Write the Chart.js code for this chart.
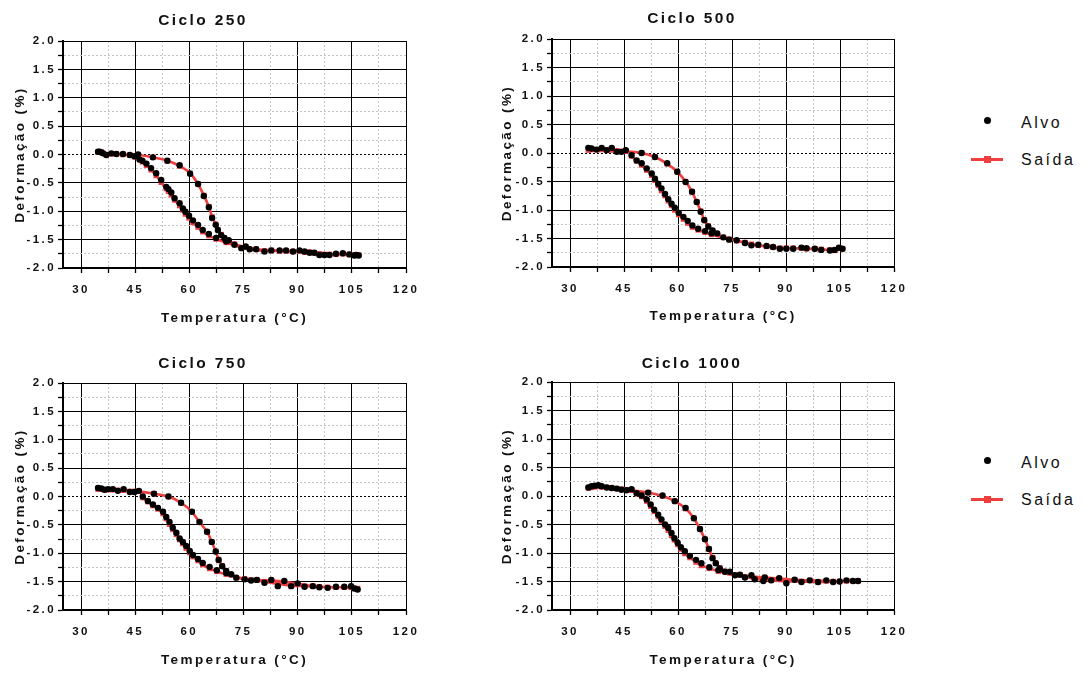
<!DOCTYPE html>
<html>
<head>
<meta charset="utf-8">
<script src="https://cdn.jsdelivr.net/npm/chart.js@4.4.0/dist/chart.umd.min.js"></script>
<style>
  html, body { margin: 0; padding: 0; background: #fff; }
  body { width: 1090px; height: 673px; overflow: hidden; position: relative;
         font-family: 'Liberation Sans', Arial, sans-serif; }
  canvas { position: absolute; }
  .lg-text { position: absolute; font-size: 16px; letter-spacing: 2.5px; color: #111; line-height: 20px; }
  .lg-dot { position: absolute; width: 7px; height: 7px; border-radius: 50%; background: #000; }
  .lg-line { position: absolute; width: 32px; height: 3px; background: rgb(240, 62, 62); }
  .lg-sq { position: absolute; width: 7px; height: 7px; background: rgb(240, 62, 62); }
</style>
</head>
<body>
<canvas id="c250" width="469" height="335" style="left:0;top:0"></canvas>
<canvas id="c500" width="466" height="335" style="left:490px;top:0"></canvas>
<canvas id="c750" width="469" height="333" style="left:0;top:340px"></canvas>
<canvas id="c1000" width="466" height="333" style="left:490px;top:340px"></canvas>
<div id="legends"></div>

<script>
// eixos
const xTicks = [30, 37.5, 45, 52.5, 60, 67.5, 75, 82.5, 90, 97.5, 105, 112.5, 120];
const yTicks = [-2, -1.75, -1.5, -1.25, -1, -0.75, -0.5, -0.25, 0, 0.25, 0.5, 0.75, 1, 1.25, 1.5, 1.75, 2];
const cycleTitles = ['Ciclo 250', 'Ciclo 500', 'Ciclo 750', 'Ciclo 1000'];
const legendLabels = ['Alvo', 'Saída'];

// Ciclo 250: aquecimento (ramo direito) e depois resfriamento (ramo esquerdo)
const temp250 = [34.7, 35.1, 35.6, 36.1, 37.0, 38.4, 39.8, 41.6, 43.5,
  45.8, 49.9, 53.9, 57.3, 60.2, 62.4, 64.0, 65.4, 66.3, 67.3, 67.9, 68.8, 69.7, 70.9,
  72.5, 75.6, 78.5, 82.7, 86.8, 90.5, 93.3, 96.0, 98.8, 102.5, 105.7, 106.9,
  106.2, 104.3, 100.6, 97.4, 94.6, 91.9, 88.7, 85.0, 80.8, 76.7, 74.4,
  70.2, 67.4, 65.4, 63.7, 62.4, 61.0, 59.9, 58.9, 58.2, 57.3, 55.9, 55.0, 54.2, 53.6, 52.2, 50.8, 49.4, 48.1, 47.0, 46.2, 44.8];
const alvo250 = [0.05, 0.05, 0.04, 0.02, -0.01, 0.02, 0.01, 0.01, -0.01,
  0.0, -0.05, -0.11, -0.19, -0.34, -0.52, -0.73, -0.93, -1.12, -1.24, -1.33, -1.42, -1.47, -1.51,
  -1.59, -1.62, -1.67, -1.69, -1.69, -1.69, -1.73, -1.77, -1.77, -1.74, -1.78, -1.78,
  -1.77, -1.76, -1.75, -1.77, -1.73, -1.71, -1.71, -1.69, -1.71, -1.67, -1.65,
  -1.53, -1.47, -1.40, -1.33, -1.24, -1.16, -1.08, -1.01, -0.95, -0.86, -0.77, -0.67, -0.61, -0.57, -0.45, -0.33, -0.24, -0.16, -0.11, -0.09, -0.03];
const saida250 = [0.04, 0.05, 0.04, 0.02, 0.0, 0.01, 0.01, 0.0, -0.01,
  -0.01, -0.05, -0.11, -0.2, -0.33, -0.52, -0.72, -0.92, -1.1, -1.23, -1.33, -1.41, -1.47, -1.52,
  -1.58, -1.63, -1.67, -1.69, -1.7, -1.7, -1.72, -1.75, -1.76, -1.75, -1.77, -1.77,
  -1.77, -1.76, -1.76, -1.76, -1.73, -1.72, -1.71, -1.7, -1.7, -1.67, -1.64,
  -1.55, -1.49, -1.43, -1.36, -1.28, -1.2, -1.12, -1.05, -0.98, -0.9, -0.8, -0.71, -0.65, -0.6, -0.49, -0.37, -0.27, -0.19, -0.13, -0.09, -0.04];

// Ciclo 500
const temp500 = [35.1, 36.0, 37.4, 38.8, 40.2, 41.6, 43.0, 44.3, 45.5,
  49.9, 53.6, 57.0, 59.8, 62.1, 63.9, 65.2, 66.3, 67.3, 68.4, 69.6, 70.9,
  72.6, 76.3, 80.4, 84.6, 88.3, 92.0, 95.7, 99.8, 103.5, 105.7,
  104.7, 102.2, 98.0, 94.3, 90.1, 86.4, 82.3, 78.6, 74.2,
  69.3, 67.5, 65.6, 64.0, 62.7, 61.5, 60.2, 59.1, 58.2, 57.3, 56.4, 55.4, 54.5, 53.6, 52.7, 51.3, 49.9, 48.5, 47.1];
const alvo500 = [0.09, 0.08, 0.06, 0.09, 0.05, 0.09, 0.02, 0.02, 0.05,
  0.0, -0.07, -0.18, -0.33, -0.51, -0.68, -0.86, -1.03, -1.18, -1.29, -1.36, -1.41,
  -1.48, -1.53, -1.62, -1.63, -1.68, -1.68, -1.67, -1.70, -1.70, -1.68,
  -1.66, -1.71, -1.68, -1.66, -1.68, -1.65, -1.61, -1.58, -1.52,
  -1.41, -1.37, -1.33, -1.27, -1.19, -1.12, -1.05, -0.96, -0.89, -0.81, -0.72, -0.62, -0.54, -0.45, -0.36, -0.27, -0.18, -0.13, -0.04];
const saida500 = [0.05, 0.06, 0.06, 0.06, 0.05, 0.05, 0.04, 0.03, 0.03,
  0.0, -0.07, -0.19, -0.33, -0.5, -0.68, -0.86, -1.02, -1.17, -1.28, -1.36, -1.42,
  -1.48, -1.54, -1.6, -1.64, -1.67, -1.67, -1.68, -1.69, -1.71, -1.68,
  -1.67, -1.7, -1.68, -1.67, -1.67, -1.65, -1.62, -1.57, -1.51,
  -1.43, -1.39, -1.35, -1.3, -1.23, -1.16, -1.08, -1.0, -0.92, -0.84, -0.75, -0.66, -0.57, -0.48, -0.39, -0.3, -0.21, -0.14, -0.05];

// Ciclo 750
const temp750 = [34.7, 35.6, 36.5, 37.5, 38.8, 40.2, 41.8, 43.5, 44.8, 46.0,
  50.2, 54.2, 57.7, 60.7, 62.8, 64.9, 66.2, 67.3, 68.1, 69.1, 70.2, 71.6,
  73.0, 77.1, 80.8, 84.5, 88.2, 91.9, 96.0, 100.6, 104.8, 106.6,
  105.7, 102.9, 98.3, 94.2, 90.0, 86.3, 82.7, 78.7, 75.3,
  70.2, 67.6, 65.6, 63.7, 62.4, 61.0, 60.1, 59.1, 58.2, 57.3, 56.4, 55.4, 54.5, 53.6, 52.7, 51.3, 49.9, 48.5, 47.1];
const alvo750 = [0.15, 0.14, 0.12, 0.13, 0.13, 0.10, 0.13, 0.08, 0.08, 0.10,
  0.05, 0.0, -0.11, -0.27, -0.45, -0.62, -0.80, -0.97, -1.12, -1.23, -1.31, -1.37,
  -1.43, -1.48, -1.52, -1.58, -1.58, -1.59, -1.60, -1.59, -1.58, -1.64,
  -1.62, -1.59, -1.61, -1.58, -1.53, -1.49, -1.47, -1.47, -1.46,
  -1.35, -1.30, -1.24, -1.17, -1.10, -1.03, -0.96, -0.87, -0.80, -0.74, -0.64, -0.55, -0.45, -0.36, -0.27, -0.20, -0.14, -0.08, 0.0];
const saida750 = [0.13, 0.13, 0.12, 0.12, 0.12, 0.11, 0.11, 0.09, 0.09, 0.09,
  0.05, 0.0, -0.11, -0.27, -0.45, -0.62, -0.8, -0.97, -1.11, -1.22, -1.31, -1.38,
  -1.43, -1.47, -1.5, -1.54, -1.57, -1.58, -1.59, -1.6, -1.6, -1.62,
  -1.62, -1.6, -1.6, -1.58, -1.54, -1.5, -1.48, -1.47, -1.45,
  -1.37, -1.32, -1.27, -1.2, -1.13, -1.06, -0.99, -0.91, -0.83, -0.76, -0.67, -0.58, -0.49, -0.39, -0.3, -0.22, -0.16, -0.09, -0.02];

// Ciclo 1000
const temp1000 = [35.1, 36.0, 36.9, 37.9, 38.8, 40.2, 41.6, 43.0, 44.3, 45.7, 47.1,
  51.7, 55.7, 59.1, 62.1, 64.4, 66.1, 67.5, 68.6, 69.6, 70.5, 71.6, 73.0,
  74.4, 77.2, 80.4, 84.1, 88.1, 92.4, 96.6, 101.2, 104.9, 108.6, 110.0,
  106.8, 103.1, 98.9, 94.3, 90.1, 85.9, 83.7, 81.3, 78.6, 75.8,
  71.2, 68.7, 66.5, 65.0, 63.3, 61.9, 60.8, 59.9, 59.0, 58.2, 57.3, 56.4, 55.4, 54.5, 53.4, 52.4, 51.3, 49.9, 48.5];
const alvo1000 = [0.15, 0.17, 0.18, 0.19, 0.17, 0.15, 0.14, 0.13, 0.11, 0.10, 0.12,
  0.06, 0.01, -0.09, -0.21, -0.39, -0.58, -0.76, -0.93, -1.09, -1.18, -1.27, -1.33,
  -1.33, -1.38, -1.39, -1.43, -1.44, -1.47, -1.48, -1.48, -1.50, -1.49, -1.49,
  -1.48, -1.51, -1.51, -1.51, -1.53, -1.48, -1.49, -1.46, -1.43, -1.39,
  -1.30, -1.25, -1.18, -1.12, -1.05, -0.97, -0.90, -0.82, -0.74, -0.65, -0.56, -0.50, -0.41, -0.33, -0.24, -0.15, -0.06, 0.01, 0.05];
const saida1000 = [0.14, 0.15, 0.16, 0.17, 0.16, 0.15, 0.14, 0.13, 0.12, 0.11, 0.1,
  0.06, 0.0, -0.09, -0.22, -0.39, -0.58, -0.76, -0.93, -1.08, -1.18, -1.26, -1.32,
  -1.35, -1.38, -1.41, -1.43, -1.45, -1.47, -1.48, -1.49, -1.5, -1.49, -1.49,
  -1.49, -1.5, -1.51, -1.5, -1.5, -1.48, -1.47, -1.45, -1.42, -1.39,
  -1.32, -1.27, -1.22, -1.16, -1.08, -1.01, -0.93, -0.85, -0.77, -0.69, -0.6, -0.53, -0.44, -0.36, -0.27, -0.18, -0.09, -0.01, 0.04];

const FONT = "'Liberation Sans', Arial, sans-serif";
const RED = 'rgb(240, 62, 62)';

// posicao de cada grafico (canvas e area de plotagem, em px da pagina)
const boxes = [
  { id: 'c250', left: 0, top: 0, w: 469, h: 335, area: [63, 41, 406, 268], titleY: 21, xTitleY: 318, yTitleX: 20 },
  { id: 'c500', left: 490, top: 0, w: 466, h: 335, area: [552, 39, 894, 267], titleY: 19, xTitleY: 316, yTitleX: 507 },
  { id: 'c750', left: 0, top: 340, w: 469, h: 333, area: [63, 383, 406, 610], titleY: 364, xTitleY: 660, yTitleX: 20 },
  { id: 'c1000', left: 490, top: 340, w: 466, h: 333, area: [552, 382, 894, 610], titleY: 364, xTitleY: 660, yTitleX: 507 }
];
const series = [
  [temp250, alvo250, saida250],
  [temp500, alvo500, saida500],
  [temp750, alvo750, saida750],
  [temp1000, alvo1000, saida1000]
];

const isMajor = (v, step) => Math.abs(v / step - Math.round(v / step)) < 1e-6;

// espaçamento entre letras como no original
const spacing = {
  id: 'spacing',
  beforeUpdate(c) { c.ctx.letterSpacing = '2.4px'; },
  beforeDraw(c) { c.ctx.letterSpacing = '2.4px'; }
};

function gridColor(step, dottedZero) {
  return (c) => {
    if (!c.tick) return '#000';
    const v = c.tick.value;
    if (dottedZero && Math.abs(v) < 1e-9) return '#000';
    return isMajor(v, step) ? '#000' : '#c4c4c4';
  };
}
function gridDash(step, dottedZero) {
  return (c) => {
    if (!c.tick) return [];
    const v = c.tick.value;
    if (dottedZero && Math.abs(v) < 1e-9) return [2, 2];
    return isMajor(v, step) ? [] : [2, 2];
  };
}

function makeChart(i) {
  const b = boxes[i];
  const [temps, alvo, saida] = series[i];
  const [al, at, ar, ab] = b.area;
  const titlePadTop = b.titleY - b.top - 9.3;
  const titlePadBottom = (at - b.top) - titlePadTop - 18.6;

  new Chart(document.getElementById(b.id), {
    type: 'scatter',
    data: {
      datasets: [
        {
          label: legendLabels[0],
          data: temps.map((t, k) => ({ x: t, y: alvo[k] })),
          showLine: false,
          pointRadius: 3.2,
          pointBorderWidth: 0,
          pointBackgroundColor: '#000',
          order: 0
        },
        {
          label: legendLabels[1],
          data: temps.map((t, k) => ({ x: t, y: saida[k] })),
          showLine: true,
          borderColor: RED,
          borderWidth: 2.6,
          tension: 0.2,
          pointStyle: 'rect',
          pointRadius: 3.8,
          pointBorderWidth: 0,
          pointBackgroundColor: RED,
          order: 1
        }
      ]
    },
    options: {
      responsive: false,
      animation: false,
      devicePixelRatio: 1,
      layout: { padding: { left: 0, top: 0, bottom: 0, right: b.left + b.w - ar } },
      plugins: {
        legend: { display: false },
        tooltip: { enabled: false },
        title: {
          display: true,
          text: cycleTitles[i],
          color: '#111',
          font: { family: FONT, size: 15.5, weight: 'bold', lineHeight: 1.2 },
          padding: { top: titlePadTop, bottom: titlePadBottom }
        }
      },
      scales: {
        x: {
          type: 'linear',
          min: 25,
          max: 120,
          afterBuildTicks: (s) => { s.ticks = xTicks.map(v => ({ value: v })); },
          afterFit: (s) => { s.height = b.top + b.h - ab; },
          ticks: {
            autoSkip: false, maxRotation: 0, padding: 10, color: '#111',
            font: { family: FONT, size: 11.5, weight: 'bold' },
            callback: (v) => isMajor(v, 15) ? String(v) : ''
          },
          grid: { color: gridColor(15, false), lineWidth: 1, tickColor: '#000', tickLength: 5, tickWidth: 1.3, tickBorderDash: [] },
          border: { color: '#000', width: 2, dash: gridDash(15, false) },
          title: {
            display: true, text: 'Temperatura (°C)', color: '#111',
            font: { family: FONT, size: 13.5, weight: 'bold', lineHeight: 1.2 },
            padding: { top: 0, bottom: b.top + b.h - b.xTitleY - 8.1 }
          }
        },
        y: {
          min: -2,
          max: 2,
          afterBuildTicks: (s) => { s.ticks = yTicks.map(v => ({ value: v })); },
          afterFit: (s) => { s.width = al - b.left; },
          ticks: {
            autoSkip: false, padding: 2, color: '#111',
            font: { family: FONT, size: 11.5, weight: 'bold' },
            callback: (v) => isMajor(v, 0.5) ? Number(v).toFixed(1) : ''
          },
          grid: { color: gridColor(0.5, true), lineWidth: 1, tickColor: '#000', tickLength: 5, tickWidth: 1.3, tickBorderDash: [] },
          border: { color: '#000', width: 2, dash: gridDash(0.5, true) },
          title: {
            display: true, text: 'Deformação (%)', color: '#111',
            font: { family: FONT, size: 13.5, weight: 'bold', lineHeight: 1.2 },
            padding: { top: b.yTitleX - b.left - 8.1, bottom: 0 }
          }
        }
      }
    },
    plugins: [spacing]
  });
}

for (let i = 0; i < boxes.length; i++) makeChart(i);

// legendas à direita (uma para cada linha de gráficos)
const legendTops = [0, 340];
const wrap = document.getElementById('legends');
legendTops.forEach((dy) => {
  wrap.insertAdjacentHTML('beforeend',
    `<div class="lg-dot" style="left:984px;top:${117 + dy}px"></div>` +
    `<div class="lg-text" style="left:1021px;top:${113 + dy}px">${legendLabels[0]}</div>` +
    `<div class="lg-line" style="left:971px;top:${158 + dy}px"></div>` +
    `<div class="lg-sq" style="left:984px;top:${156 + dy}px"></div>` +
    `<div class="lg-text" style="left:1021px;top:${150 + dy}px">${legendLabels[1]}</div>`);
});
</script>
</body>
</html>
